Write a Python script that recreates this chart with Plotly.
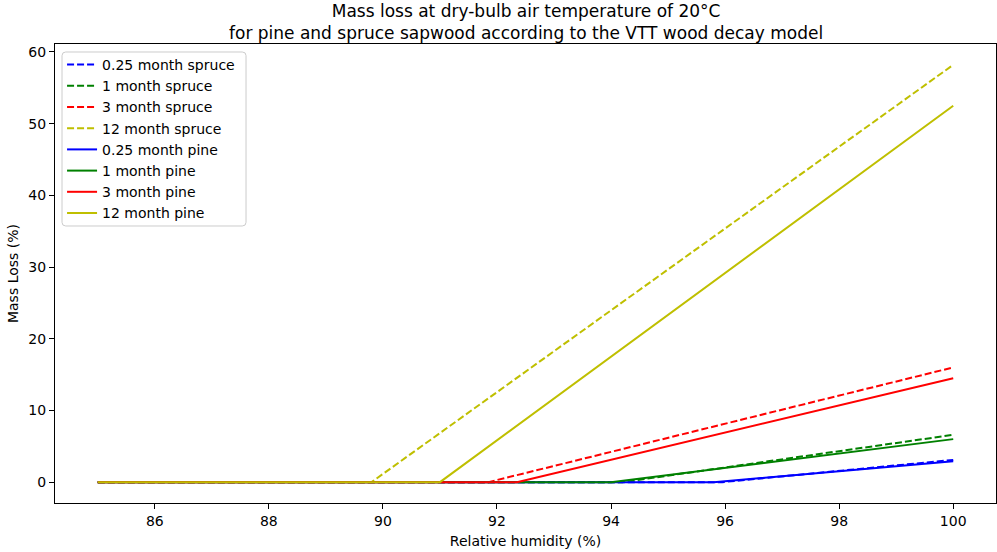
import plotly.graph_objects as go

# Relative humidity breakpoints (%) for each curve: flat at zero until the
# onset humidity, then linear up to the value at 100 % RH.
rh_start = 85.0
rh_end = 100.0

labels = ["0.25 month", "1 month", "3 month", "12 month"]
colors = ["#0000ff", "#008000", "#ff0000", "#bfbf00"]

spruce_onset = [95.95, 94.2, 91.85, 89.8]
spruce_loss_at_100 = [3.1, 6.6, 16.0, 58.2]

pine_onset = [95.8, 94.0, 92.35, 91.0]
pine_loss_at_100 = [2.9, 6.0, 14.5, 52.5]

title_lines = [
    "Mass loss at dry-bulb air temperature of 20°C",
    "for pine and spruce sapwood according to the VTT wood decay model",
]

fig = go.Figure()

def add_series(onsets, losses, species, dash):
    for lab, col, x0, y1 in zip(labels, colors, onsets, losses):
        fig.add_trace(go.Scatter(
            x=[rh_start, x0, rh_end],
            y=[0.0, 0.0, y1],
            mode="lines",
            name=f"{lab} {species}",
            line=dict(color=col, width=2, dash=dash),
        ))

add_series(spruce_onset, spruce_loss_at_100, "spruce", "7px,3px")
add_series(pine_onset, pine_loss_at_100, "pine", "solid")

font_family = "DejaVu Sans"
axis_common = dict(
    showline=True, linecolor="black", linewidth=1, mirror=True,
    ticks="outside", ticklen=5, tickcolor="black", showgrid=False,
    zeroline=False, tickfont=dict(size=14, color="black"),
)

fig.update_layout(
    width=997, height=552,
    margin=dict(l=55, r=1, t=44, b=49),
    paper_bgcolor="white", plot_bgcolor="white",
    font=dict(family=font_family, color="black"),
    xaxis=dict(
        range=[84.25, 100.75], tickvals=[86, 88, 90, 92, 94, 96, 98, 100],
        title=dict(text="Relative humidity (%)", font=dict(size=14), standoff=8),
        **axis_common,
    ),
    yaxis=dict(
        range=[-2.91, 61.11], tickvals=[0, 10, 20, 30, 40, 50, 60],
        title=dict(text="Mass Loss (%)", font=dict(size=14), standoff=6),
        **axis_common,
    ),
    legend=dict(
        x=0.0075, y=0.9891, xanchor="left", yanchor="top",
        bgcolor="rgba(0,0,0,0)", borderwidth=0,
        font=dict(size=14, color="black"), tracegroupgap=0,
    ),
)

# Legend frame: light grey rounded box with a translucent white fill
lx0, lx1, ly0, ly1 = 0.00744, 0.203, 0.6035, 0.9826
r_x, r_y = 0.004, 0.008
frame_path = (
    f"M {lx0 + r_x},{ly0} L {lx1 - r_x},{ly0} Q {lx1},{ly0} {lx1},{ly0 + r_y} "
    f"L {lx1},{ly1 - r_y} Q {lx1},{ly1} {lx1 - r_x},{ly1} "
    f"L {lx0 + r_x},{ly1} Q {lx0},{ly1} {lx0},{ly1 - r_y} "
    f"L {lx0},{ly0 + r_y} Q {lx0},{ly0} {lx0 + r_x},{ly0} Z"
)
fig.add_shape(
    type="path", path=frame_path, xref="paper", yref="paper",
    line=dict(color="#cccccc", width=1), fillcolor="rgba(255,255,255,0.8)",
    layer="above",
)

# Two-line title centred over the plotting area
fig.add_annotation(
    text="<br>".join(title_lines), xref="paper", yref="paper", x=0.5, y=1,
    xanchor="center", yanchor="bottom", yshift=-1, showarrow=False,
    align="center", font=dict(size=17, color="black", family=font_family),
)

fig.write_html("out.html")
